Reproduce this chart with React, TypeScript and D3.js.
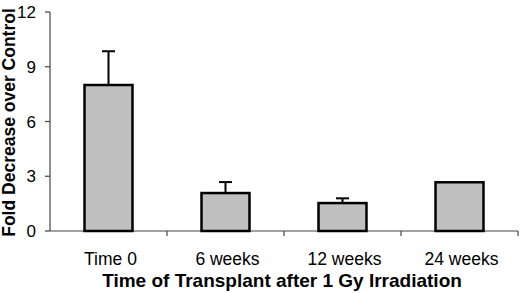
import React from "react";
import * as d3 from "d3";

const categories = ["Time 0", "6 weeks", "12 weeks", "24 weeks"];
const values = [8.0, 2.08, 1.53, 2.67];
const errors = [1.85, 0.6, 0.26, 0];
const yTicks = [0, 3, 6, 9, 12];
const yTitle = "Fold Decrease over Control";
const xTitle = "Time of Transplant after 1 Gy Irradiation";

export default function App() {
  const W = 520, H = 293;
  const left = 50, right = 518, top = 12, bottom = 231;
  const x = d3.scaleBand<string>().domain(categories).range([left, right]).paddingInner(0.59).paddingOuter(0.295);
  const y = d3.scaleLinear().domain([0, 12]).range([bottom, top]);
  const step = x.step();
  const font = "'Liberation Sans', Arial, sans-serif";
  const boundaries = categories.map((_, i) => left + step * (i + 1));
  return (
    <div style={{ position: "absolute", left: 0, top: 0 }}>
      <svg width={W} height={H} style={{ display: "block", background: "#fff" }} fontFamily={font}>
        {/* axes */}
        <line x1={left} x2={left} y1={top} y2={bottom} stroke="#444" strokeWidth={1.2} />
        <line x1={left} x2={right} y1={bottom} y2={bottom} stroke="#444" strokeWidth={1.2} />
        {yTicks.map((t) => (
          <g key={t}>
            <line x1={left - 5} x2={left} y1={y(t)} y2={y(t)} stroke="#444" strokeWidth={1.2} />
            <text x={36} y={y(t)} dy="0.36em" textAnchor="end" fontSize={17}>{t}</text>
          </g>
        ))}
        {boundaries.map((b, i) => (
          <line key={i} x1={b} x2={b} y1={bottom} y2={bottom + 5} stroke="#444" strokeWidth={1.2} />
        ))}
        {/* bars */}
        {categories.map((c, i) => {
          const bx = x(c)!;
          const bw = x.bandwidth();
          const cx = bx + bw / 2;
          const e = errors[i];
          return (
            <g key={c}>
              {e > 0 && (
                <g stroke="#000" strokeWidth={2}>
                  <line x1={cx} x2={cx} y1={y(values[i])} y2={y(values[i] + e)} />
                  <line x1={cx - 6.5} x2={cx + 6.5} y1={y(values[i] + e)} y2={y(values[i] + e)} />
                </g>
              )}
              <rect x={bx} y={y(values[i])} width={bw} height={bottom - y(values[i])} fill="#c0c0c0" stroke="#000" strokeWidth={2.5} />
            </g>
          );
        })}
        {categories.map((c) => (
          <text key={c} x={x(c)! + x.bandwidth() / 2 + 2} y={265} textAnchor="middle" fontSize={17.5}>{c}</text>
        ))}
        <text x={282} y={287} textAnchor="middle" fontSize={19} fontWeight="bold">{xTitle}</text>
        <text transform={`translate(15, ${(top + bottom) / 2 + 1}) rotate(-90)`} textAnchor="middle" fontSize={17.5} fontWeight="bold">{yTitle}</text>
      </svg>
    </div>
  );
}
